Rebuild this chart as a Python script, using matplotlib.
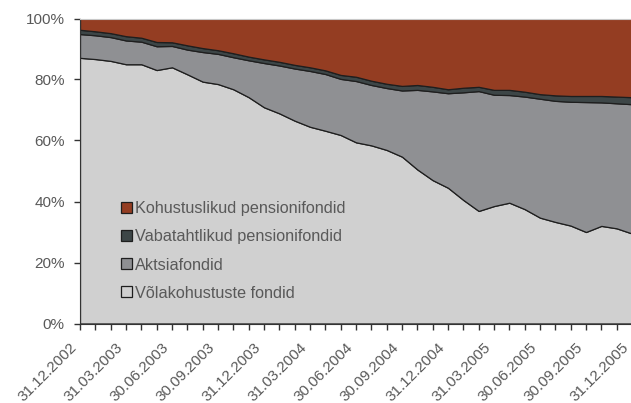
import matplotlib
matplotlib.use("Agg")
import matplotlib.pyplot as plt
import matplotlib.transforms as mtransforms

plt.rcParams['font.family'] = ['Liberation Sans', 'DejaVu Sans']

# months 31.12.2002 ... 31.12.2005
months = list(range(37))
tick_labels = ["31.12.2002", "31.03.2003", "30.06.2003", "30.09.2003",
               "31.12.2003", "31.03.2004", "30.06.2004", "30.09.2004",
               "31.12.2004", "31.03.2005", "30.06.2005", "30.09.2005",
               "31.12.2005"]

# shares, %
volakohustuste = [87.1, 86.7, 86.1, 85.0, 85.0, 83.1, 84.0, 81.7, 79.3, 78.5,
                  76.8, 74.2, 70.9, 68.9, 66.5, 64.5, 63.2, 61.8, 59.4, 58.4,
                  56.9, 54.7, 50.5, 47.0, 44.5, 40.5, 36.9, 38.5, 39.6, 37.5,
                  34.7, 33.3, 32.1, 30.0, 32.0, 31.2, 29.5]
aktsia = [7.8, 7.8, 7.8, 7.8, 7.4, 7.8, 7.0, 8.1, 9.7, 9.9,
          10.5, 12.1, 14.5, 15.7, 17.1, 18.3, 18.6, 18.4, 20.1, 19.8,
          20.3, 21.7, 26.1, 29.1, 31.0, 35.3, 39.3, 36.5, 35.3, 36.9,
          39.0, 39.7, 40.6, 42.6, 40.5, 41.0, 42.4]
vabatahtlikud = [1.4, 1.3, 1.3, 1.4, 1.3, 1.4, 1.2, 1.4, 1.3, 1.2,
                 1.3, 1.2, 1.2, 1.2, 1.2, 1.2, 1.2, 1.3, 1.4, 1.4,
                 1.4, 1.5, 1.6, 1.5, 1.3, 1.5, 1.4, 1.6, 1.7, 1.6,
                 1.5, 1.8, 1.9, 2.0, 2.1, 2.2, 2.3]
kohustuslikud = [100 - a - b - c for a, b, c in zip(volakohustuste, aktsia, vabatahtlikud)]

names = ["Võlakohustuste fondid", "Aktsiafondid",
         "Vabatahtlikud pensionifondid", "Kohustuslikud pensionifondid"]
colors = ["#d0d0d0", "#8f9093", "#3d4647", "#943d22"]

fig = plt.figure(figsize=(6.31, 4.03), dpi=100)
ax = fig.add_axes([80 / 631, 1 - 323.5 / 403, 552 / 631, 305 / 403])

ax.stackplot(months, volakohustuste, aktsia, vabatahtlikud, kohustuslikud,
             colors=colors, labels=names, edgecolor="#1e1e1e", linewidth=0.9)

ax.set_xlim(0, 36)
ax.set_ylim(0, 100)

ax.set_yticks(range(0, 101, 20))
ax.set_yticklabels([f"{v}%" for v in range(0, 101, 20)])
ax.set_xticks(months[::3])
ax.set_xticks(months, minor=True)
ax.set_xticklabels(tick_labels, rotation=45, ha="right", va="baseline",
                   rotation_mode="anchor")

ax.tick_params(axis="both", direction="out", length=4, width=1, color="#333333",
               labelsize=11, labelcolor="#595959")
ax.tick_params(axis="x", which="minor", length=4, width=1, color="#333333")
ax.tick_params(axis="x", pad=14)
ax.tick_params(axis="y", pad=7)

offset = mtransforms.ScaledTranslation(-0.03, 0, fig.dpi_scale_trans)
for lab in ax.get_xticklabels():
    lab.set_transform(lab.get_transform() + offset)

ax.spines["left"].set_color("#333333")
ax.spines["bottom"].set_color("#333333")
ax.spines["top"].set_color("#c8c8c8")
ax.spines["right"].set_visible(False)

handles, labels = ax.get_legend_handles_labels()
leg = ax.legend(handles[::-1], labels[::-1], loc="upper left",
                bbox_to_anchor=(0.075, 0.40), frameon=False, fontsize=11.7,
                handlelength=0.65, handleheight=0.65, handletextpad=0.2,
                labelspacing=0.8, borderpad=0, borderaxespad=0)
for t in leg.get_texts():
    t.set_color("#595959")

fig.savefig("out.png", dpi=100)
